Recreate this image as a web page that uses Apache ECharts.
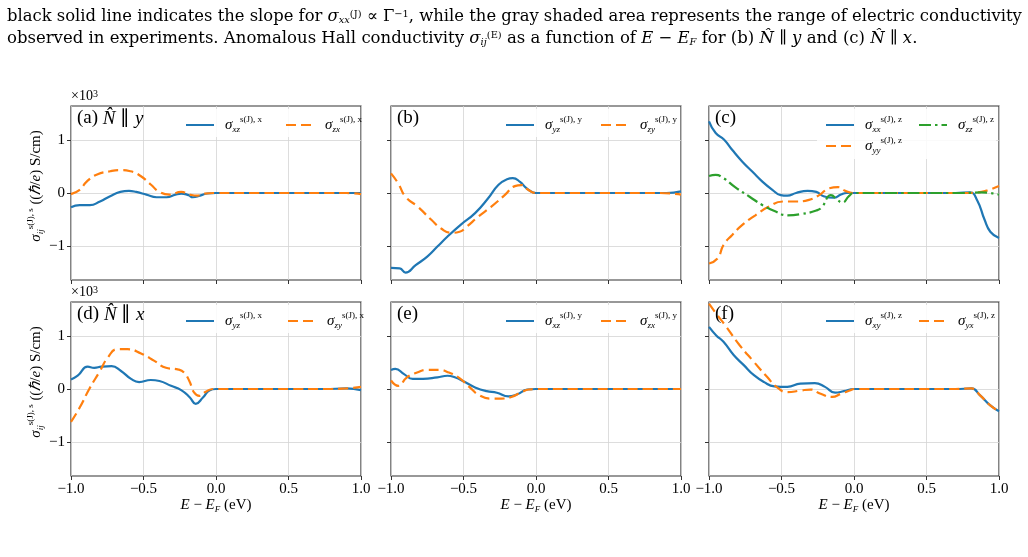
<!DOCTYPE html>
<html>
<head>
<meta charset="utf-8">
<script src="https://cdn.jsdelivr.net/npm/echarts@6/dist/echarts.min.js"></script>
<style>
  html, body { margin: 0; background: #fff; }
  #chart { width: 1028px; height: 557px; }
</style>
</head>
<body>
<div id="chart"></div>
<script>
// axis ticks (E - E_F in eV, sigma in 10^3 (hbar/e) S/cm)
const xTicks = [-1, -0.5, 0, 0.5, 1];
const yTicks = [-1, 0, 1];
const yRange = [-1.64, 1.64];

// (a) N || y
const aXz = [[-1.0,-0.27],[-0.94,-0.23],[-0.87,-0.23],[-0.80,-0.16],[-0.73,-0.06],[-0.66,0.02],[-0.60,0.04],[-0.55,0.02],[-0.48,-0.03],[-0.41,-0.08],[-0.34,-0.08],[-0.28,-0.03],[-0.24,-0.01],[-0.19,-0.04],[-0.16,-0.08],[-0.11,-0.05],[-0.06,-0.01],[0,0],[0.25,0],[0.5,0],[0.75,0],[1.0,0]];
const aZx = [[-1.0,-0.02],[-0.94,0.06],[-0.89,0.22],[-0.82,0.35],[-0.73,0.41],[-0.66,0.43],[-0.59,0.41],[-0.52,0.32],[-0.45,0.16],[-0.39,0.02],[-0.32,-0.03],[-0.24,0.02],[-0.18,-0.03],[-0.13,-0.05],[-0.08,-0.01],[0,0],[0.25,0],[0.5,0],[0.75,0],[0.9,0],[1.0,-0.02]];
// (b)
const bYz = [[-1.0,-1.41],[-0.94,-1.42],[-0.90,-1.50],[-0.83,-1.36],[-0.75,-1.20],[-0.68,-1.01],[-0.61,-0.82],[-0.52,-0.60],[-0.42,-0.38],[-0.33,-0.10],[-0.26,0.15],[-0.20,0.26],[-0.16,0.28],[-0.11,0.21],[-0.066,0.09],[-0.02,0.01],[0,0],[0.25,0],[0.5,0],[0.75,0],[0.9,0],[1.0,0.03]];
const bZy = [[-1.0,0.37],[-0.95,0.18],[-0.90,-0.07],[-0.815,-0.26],[-0.72,-0.51],[-0.654,-0.67],[-0.585,-0.75],[-0.527,-0.73],[-0.48,-0.64],[-0.40,-0.45],[-0.31,-0.26],[-0.216,-0.04],[-0.146,0.13],[-0.10,0.15],[-0.054,0.06],[0,0],[0.25,0],[0.5,0],[0.75,0],[0.85,0],[1.0,-0.03]];
// (c)
const cXx = [[-1.0,1.35],[-0.954,1.13],[-0.897,1.01],[-0.839,0.81],[-0.77,0.59],[-0.70,0.40],[-0.63,0.21],[-0.563,0.06],[-0.506,-0.04],[-0.46,-0.05],[-0.40,0.0],[-0.32,0.04],[-0.26,0.02],[-0.21,-0.06],[-0.14,-0.09],[-0.09,-0.03],[-0.05,0.0],[0,0],[0.25,0],[0.5,0],[0.7,0],[0.8,0.01],[0.85,-0.14],[0.9,-0.50],[0.94,-0.73],[1.0,-0.85]];
const cYy = [[-1.0,-1.33],[-0.94,-1.23],[-0.90,-0.98],[-0.84,-0.79],[-0.77,-0.60],[-0.68,-0.42],[-0.59,-0.26],[-0.49,-0.16],[-0.40,-0.16],[-0.31,-0.13],[-0.24,-0.04],[-0.17,0.09],[-0.11,0.11],[-0.06,0.04],[0,0],[0.25,0],[0.5,0],[0.75,0],[0.85,0.01],[0.92,0.05],[1.0,0.13]];
const cZz = [[-1.0,0.32],[-0.954,0.34],[-0.90,0.28],[-0.82,0.11],[-0.72,-0.07],[-0.63,-0.23],[-0.54,-0.35],[-0.46,-0.42],[-0.37,-0.40],[-0.26,-0.33],[-0.22,-0.26],[-0.18,-0.07],[-0.16,-0.04],[-0.115,-0.13],[-0.08,-0.18],[-0.035,-0.06],[0,0],[0.25,0],[0.5,0],[0.75,0],[0.88,0.01],[1.0,-0.03]];
// (d) N || x
const dYz = [[-1.0,0.18],[-0.954,0.25],[-0.885,0.42],[-0.84,0.40],[-0.79,0.42],[-0.72,0.43],[-0.655,0.34],[-0.586,0.19],[-0.53,0.13],[-0.45,0.17],[-0.39,0.15],[-0.31,0.06],[-0.24,-0.02],[-0.18,-0.16],[-0.14,-0.28],[-0.09,-0.16],[-0.046,-0.03],[0,0],[0.25,0],[0.5,0],[0.75,0],[0.9,0.01],[1.0,-0.02]];
const dZy = [[-1.0,-0.62],[-0.94,-0.35],[-0.874,0.0],[-0.80,0.34],[-0.747,0.59],[-0.68,0.75],[-0.61,0.75],[-0.517,0.67],[-0.425,0.53],[-0.345,0.40],[-0.264,0.37],[-0.22,0.31],[-0.184,0.15],[-0.15,-0.07],[-0.115,-0.13],[-0.07,-0.05],[-0.02,0],[0.25,0],[0.5,0],[0.75,0],[0.9,0.01],[1.0,0.04]];
// (e)
const eXz = [[-1.0,0.36],[-0.97,0.38],[-0.91,0.28],[-0.85,0.19],[-0.78,0.19],[-0.68,0.22],[-0.61,0.25],[-0.56,0.22],[-0.49,0.13],[-0.42,0.03],[-0.34,-0.04],[-0.27,-0.07],[-0.19,-0.14],[-0.13,-0.10],[-0.06,-0.01],[0,0],[0.25,0],[0.5,0],[0.75,0],[1.0,0]];
const eZx = [[-1.0,0.16],[-0.95,0.06],[-0.89,0.22],[-0.82,0.31],[-0.75,0.36],[-0.67,0.36],[-0.60,0.31],[-0.53,0.21],[-0.46,0.04],[-0.39,-0.12],[-0.31,-0.18],[-0.24,-0.18],[-0.17,-0.15],[-0.10,-0.06],[-0.05,-0.01],[0,0],[0.25,0],[0.5,0],[0.75,0],[1.0,0]];
// (f)
const fXy = [[-1.0,1.17],[-0.95,1.01],[-0.90,0.89],[-0.83,0.64],[-0.76,0.45],[-0.69,0.26],[-0.62,0.13],[-0.55,0.05],[-0.46,0.04],[-0.37,0.10],[-0.27,0.11],[-0.20,0.04],[-0.13,-0.07],[-0.07,-0.04],[0,0],[0.25,0],[0.5,0],[0.7,0],[0.81,0.01],[0.87,-0.12],[0.94,-0.31],[1.0,-0.42]];
const fYx = [[-1.0,1.61],[-0.95,1.42],[-0.88,1.17],[-0.79,0.83],[-0.69,0.51],[-0.60,0.23],[-0.53,0.03],[-0.46,-0.06],[-0.37,-0.03],[-0.30,-0.01],[-0.23,-0.09],[-0.15,-0.15],[-0.09,-0.09],[-0.03,-0.03],[0,0],[0.25,0],[0.5,0],[0.7,0],[0.81,0.01],[0.87,-0.12],[0.94,-0.31],[1.0,-0.42]];

const serif = 'Liberation Serif';
const blue = '#1f77b4', orange = '#ff7f0e', green = '#2ca02c';
const dashes = { solid: 'solid', dashed: [10, 5], dashdot: [12, 4, 2.5, 4] };

const rich = {
  s: { fontFamily: serif, fontStyle: 'italic', fontSize: 15, lineHeight: 20 },
  n: { fontFamily: serif, fontSize: 15, lineHeight: 20 },
  sub: { fontFamily: serif, fontStyle: 'italic', fontSize: 9, verticalAlign: 'bottom', padding: [0, 0, 1, 0] },
  sup: { fontFamily: serif, fontSize: 9, verticalAlign: 'top' }
};
function sig(sub, dir) {
  return '{s|σ}{sub|' + sub + '}{sup|s(J), ' + dir + '}';
}

const lefts = [71, 391, 709];
const tops = [106, 302];
const panelW = 290, panelH = 174;

// legend: offset of first handle from panel left, spacing between columns
const panels = [
  { row: 0, col: 0, tag: '{n|(a) }{s|N\u0302}{n| ∥ }{s|y}', lgLeft: 114, lgStep: 100, curves: [
    { name: 'a1', data: aXz, color: blue, dash: 'solid', label: sig('xz', 'x') },
    { name: 'a2', data: aZx, color: orange, dash: 'dashed', label: sig('zx', 'x') }] },
  { row: 0, col: 1, tag: '{n|(b)}', lgLeft: 114, lgStep: 95, curves: [
    { name: 'b1', data: bYz, color: blue, dash: 'solid', label: sig('yz', 'y') },
    { name: 'b2', data: bZy, color: orange, dash: 'dashed', label: sig('zy', 'y') }] },
  { row: 0, col: 2, tag: '{n|(c)}', lgLeft: 116, lgStep: 93, legendOrder: ['c1', 'c3', 'c2'], curves: [
    { name: 'c1', data: cXx, color: blue, dash: 'solid', label: sig('xx', 'z') },
    { name: 'c2', data: cYy, color: orange, dash: 'dashed', label: sig('yy', 'z') },
    { name: 'c3', data: cZz, color: green, dash: 'dashdot', label: sig('zz', 'z') }] },
  { row: 1, col: 0, tag: '{n|(d) }{s|N\u0302}{n| ∥ }{s|x}', lgLeft: 114, lgStep: 102, curves: [
    { name: 'd1', data: dYz, color: blue, dash: 'solid', label: sig('yz', 'x') },
    { name: 'd2', data: dZy, color: orange, dash: 'dashed', label: sig('zy', 'x') }] },
  { row: 1, col: 1, tag: '{n|(e)}', lgLeft: 114, lgStep: 95, curves: [
    { name: 'e1', data: eXz, color: blue, dash: 'solid', label: sig('xz', 'y') },
    { name: 'e2', data: eZx, color: orange, dash: 'dashed', label: sig('zx', 'y') }] },
  { row: 1, col: 2, tag: '{n|(f)}', lgLeft: 116, lgStep: 93, curves: [
    { name: 'f1', data: fXy, color: blue, dash: 'solid', label: sig('xy', 'z') },
    { name: 'f2', data: fYx, color: orange, dash: 'dashed', label: sig('yx', 'z') }] }
];

const labelOf = {};
const minus = v => (v < 0 ? '−' : '') + Math.abs(v);

var grids = [], xAxes = [], yAxes = [], series = [], legends = [], graphics = [];

panels.forEach((p, i) => {
  const left = lefts[p.col], top = tops[p.row];
  grids.push({
    left: left, top: top, width: panelW, height: panelH,
    show: true, borderColor: '#333', borderWidth: 1.2,
    outerBoundsMode: 'none'
  });
  xAxes.push({
    gridIndex: i, type: 'value', min: -1, max: 1, interval: 0.5,
    axisLine: { show: false, onZero: false },
    axisTick: { show: true, length: 4, lineStyle: { color: '#333', width: 1 } },
    axisLabel: {
      show: p.row === 1, margin: 6, color: '#000', fontFamily: serif, fontSize: 15,
      showMinLabel: true, showMaxLabel: true,
      formatter: v => (v < 0 ? '−' : '') + Math.abs(v).toFixed(1)
    },
    splitLine: { show: true, lineStyle: { color: '#d4d4d4', width: 0.8 } },
    name: p.row === 1 ? '{s|E}{n| − }{s|E}{sub|F}{n| (eV)}' : '',
    nameLocation: 'middle', nameGap: 19,
    nameTextStyle: { color: '#000', rich: rich }
  });
  yAxes.push({
    gridIndex: i, type: 'value', min: yRange[0], max: yRange[1],
    axisLine: { show: false, onZero: false },
    axisTick: { show: true, length: 4, customValues: yTicks, lineStyle: { color: '#333', width: 1 } },
    axisLabel: {
      show: p.col === 0, customValues: yTicks, margin: 6, color: '#000',
      fontFamily: serif, fontSize: 15, formatter: minus
    },
    splitLine: { show: true, lineStyle: { color: '#d4d4d4', width: 0.8 } }
  });
  p.curves.forEach(c => {
    labelOf[c.name] = c.label;
    series.push({
      name: c.name, type: 'line', xAxisIndex: i, yAxisIndex: i,
      data: c.data, symbol: 'none', smooth: 0.5,
      lineStyle: { color: c.color, width: 2.2, type: dashes[c.dash] },
      itemStyle: { color: c.color },
      animation: false
    });
  });
  // one legend per entry, laid out in two columns like the original
  const order = p.legendOrder || p.curves.map(c => c.name);
  order.forEach((name, k) => {
    legends.push({
      data: [name],
      left: left + p.lgLeft + (k % 2) * p.lgStep,
      top: top + 9 + Math.floor(k / 2) * 21,
      itemWidth: 28, itemHeight: 12, padding: 0,
      selectedMode: false,
      itemStyle: { opacity: 0 },
      formatter: n => labelOf[n],
      textStyle: { color: '#000', fontFamily: serif, rich: rich, padding: [0, 0, 0, 6] }
    });
  });
  // white legend frame hiding the grid lines
  graphics.push({
    type: 'rect', z: 3, silent: true,
    shape: { x: left + p.lgLeft - 8, y: top + 3, width: panelW - p.lgLeft + 5, height: order.length > 2 ? 50 : 28 },
    style: { fill: 'rgba(255,255,255,0.85)' }
  });
  graphics.push({
    type: 'text', left: left + 6, top: top + 3, z: 5,
    style: { text: p.tag, rich: Object.assign({}, rich, {
      n: { fontFamily: serif, fontSize: 19, lineHeight: 24 },
      s: { fontFamily: serif, fontSize: 19, fontStyle: 'italic', lineHeight: 24 } }), fill: '#000' }
  });
  if (p.col === 0) {
    graphics.push({
      type: 'text', left: left, top: top - 17,
      style: { text: '{n|×10}{sup|3}', rich: {
        n: { fontFamily: serif, fontSize: 14, lineHeight: 15 },
        sup: { fontFamily: serif, fontSize: 10, verticalAlign: 'top' } }, fill: '#000' }
    });
    graphics.push({
      type: 'text', x: 36, y: top + panelH / 2 - 7, rotation: Math.PI / 2,
      style: {
        text: '{s|σ}{sub|ij}{sup|s(J), s}{n| ((}{s|ℏ}{n|/}{s|e}{n|) S/cm)}',
        rich: rich, align: 'center', verticalAlign: 'middle', fill: '#000'
      }
    });
  }
});

// caption lines above the figure
const capFont = 'DejaVu Serif';
function capRich(size) {
  return {
    i: { fontFamily: capFont, fontStyle: 'italic', fontSize: size },
    sub: { fontFamily: capFont, fontStyle: 'italic', fontSize: size * 0.6, verticalAlign: 'bottom' },
    sup: { fontFamily: capFont, fontSize: size * 0.6, verticalAlign: 'top' }
  };
}
graphics.push({
  type: 'text', x: 7, y: 17,
  style: {
    text: 'black solid line indicates the slope for {i|σ}{sub|xx}{sup|(J)} ∝ Γ{sup|−1}, while the gray shaded area represents the range of electric conductivity',
    rich: capRich(16.4), fontFamily: capFont, fontSize: 16.4, verticalAlign: 'middle', fill: '#000'
  }
});
graphics.push({
  type: 'text', x: 7, y: 39,
  style: {
    text: 'observed in experiments. Anomalous Hall conductivity {i|σ}{sub|ij}{sup|(E)} as a function of {i|E} − {i|E}{sub|F} for (b) {i|N\u0302} ∥ {i|y} and (c) {i|N\u0302} ∥ {i|x}.',
    rich: capRich(16.5), fontFamily: capFont, fontSize: 16.5, verticalAlign: 'middle', fill: '#000'
  }
});

var chart = echarts.init(document.getElementById('chart'));
chart.setOption({
  backgroundColor: '#fff',
  animation: false,
  grid: grids,
  xAxis: xAxes,
  yAxis: yAxes,
  legend: legends,
  series: series,
  graphic: graphics
});
</script>
</body>
</html>
